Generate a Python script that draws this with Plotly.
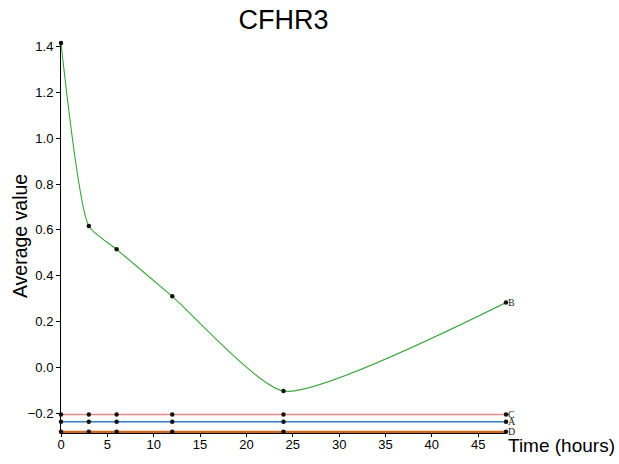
import plotly.graph_objects as go

times = [0, 3, 6, 12, 24, 48]
series_names = ["C", "A", "D", "B"]
series_values = {
    "B": [1.415, 0.617, 0.515, 0.31, -0.103, 0.283],
    "C": [-0.205] * 6,
    "A": [-0.237] * 6,
    "D": [-0.281] * 6,
}
series_colors = {"B": "#3aa53a", "C": "#f08a8a", "A": "#2f7fc1", "D": "#cc6a22"}
series_widths = {"B": 1.1, "C": 1.6, "A": 1.6, "D": 2.2}
x_ticks = [0, 5, 10, 15, 20, 25, 30, 35, 40, 45]
y_ticks = [-0.2, 0.0, 0.2, 0.4, 0.6, 0.8, 1.0, 1.2, 1.4]

fig = go.Figure()
for name in series_names:
    vals = series_values[name]
    fig.add_trace(go.Scatter(
        x=times, y=vals, mode="lines+markers", name=name,
        line=dict(color=series_colors[name], width=series_widths[name],
                  shape="spline" if name == "B" else "linear", smoothing=0.55),
        marker=dict(color="#111111", size=4.5),
        cliponaxis=False, showlegend=False,
    ))
    fig.add_annotation(x=times[-1], y=vals[-1], text=name, xref="x", yref="y",
                       xanchor="left", yanchor="middle", xshift=0, showarrow=False,
                       font=dict(family="Liberation Serif, serif", size=10, color="#222"))

fig.add_annotation(text="Time (hours)", xref="paper", yref="paper", x=1.0, y=-0.033,
                   xanchor="left", yanchor="middle", showarrow=False,
                   font=dict(family="Liberation Sans, Arial", size=19, color="#000"))
fig.add_annotation(text="Average value", xref="paper", yref="paper", x=-0.092, y=0.505,
                   xanchor="center", yanchor="middle", textangle=-90, showarrow=False,
                   font=dict(family="Liberation Sans, Arial", size=19.5, color="#000"))

fig.update_layout(
    width=619, height=464,
    margin=dict(l=61, r=113, t=43, b=26),
    paper_bgcolor="white", plot_bgcolor="white",
    title=dict(text="CFHR3", x=(61 + 506) / 2 / 619, xanchor="center", y=1 - 20 / 464, yanchor="middle",
               font=dict(family="Liberation Sans, Arial", size=27, color="#000")),
    font=dict(family="Liberation Sans, Arial", size=13, color="#000"),
)
fig.update_xaxes(range=[0, 48], tickvals=x_ticks, showgrid=False, zeroline=False,
                 showline=True, linecolor="#000", linewidth=1, ticks="outside", ticklen=3,
                 tickcolor="#000", tickfont=dict(size=13), ticklabelstandoff=-4,
                 layer="below traces")
fig.update_yaxes(range=[-0.286, 1.415], tickvals=y_ticks, tickformat=".1f", showgrid=False,
                 zeroline=False, showline=True, linecolor="#000", linewidth=1, ticks="outside",
                 ticklen=4, tickcolor="#000", tickfont=dict(size=13), layer="below traces")

fig.write_html("out.html")
